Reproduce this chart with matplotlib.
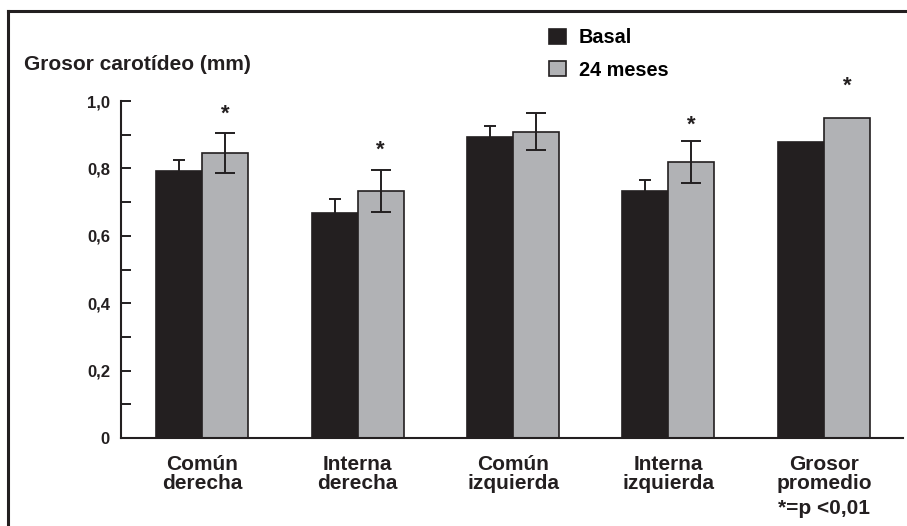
import numpy as np
import matplotlib
matplotlib.use("Agg")
import matplotlib.pyplot as plt
from matplotlib.lines import Line2D

plt.rcParams['font.family'] = ['Liberation Sans', 'DejaVu Sans']
plt.rcParams['font.weight'] = 'bold'

# Carotid intima-media thickness (mm), baseline vs 24 months
categories = ["Común\nderecha", "Interna\nderecha", "Común\nizquierda",
              "Interna\nizquierda", "Grosor\npromedio"]
basal = [0.792, 0.669, 0.892, 0.733, 0.877]
meses24 = [0.845, 0.732, 0.909, 0.819, 0.949]
basal_err = [0.032, 0.039, 0.035, 0.034, None]
meses24_err = [0.060, 0.062, 0.055, 0.063, None]
# significant differences (p < 0.01) and where the marker sits
significant = [True, True, False, True, True]
star_y = [0.945, 0.838, None, 0.912, 1.028]
y_ticks = [0, 0.2, 0.4, 0.6, 0.8, 1.0]
y_tick_labels = ["0", "0,2", "0,4", "0,6", "0,8", "1,0"]
y_minor = [0.1, 0.3, 0.5, 0.7, 0.9]
series_labels = ["Basal", "24 meses"]
footnote = "*=p <0,01"

BLACK = "#231f20"
GRAY = "#b1b2b5"
W, H = 907, 526

fig = plt.figure(figsize=(W / 100, H / 100), dpi=100)
ax = fig.add_axes([121 / W, (H - 438) / H, (903 - 121) / W, 337 / H])

x = np.arange(len(categories))
bw = 0.296
b1 = ax.bar(x - bw / 2, basal, bw, color=BLACK, edgecolor=BLACK, linewidth=1.2,
            label=series_labels[0], zorder=2)
b2 = ax.bar(x + bw / 2, meses24, bw, color=GRAY, edgecolor=BLACK, linewidth=1.2,
            label=series_labels[1], zorder=2)

# error bars (only where reported)
idx_b = [i for i, e in enumerate(basal_err) if e is not None]
ax.errorbar(x[idx_b] - bw / 2, [basal[i] for i in idx_b],
            yerr=[basal_err[i] for i in idx_b], fmt='none', ecolor=BLACK,
            elinewidth=1.4, capsize=4.3, capthick=1.4, zorder=3)
idx_m = [i for i, e in enumerate(meses24_err) if e is not None]
ax.errorbar(x[idx_m] + bw / 2, [meses24[i] for i in idx_m],
            yerr=[meses24_err[i] for i in idx_m], fmt='none', ecolor=BLACK,
            elinewidth=1.4, capsize=7.5, capthick=1.4, zorder=3)

for i, sig in enumerate(significant):
    if sig:
        ax.text(x[i] + bw / 2, star_y[i], "*", ha='center', va='baseline',
                fontsize=16, color=BLACK, clip_on=False)

ax.set_xlim(-0.523, 4.509)
ax.set_ylim(0, 1.0)
ax.set_yticks(y_ticks)
ax.set_yticklabels(y_tick_labels)
ax.set_yticks(y_minor, minor=True)
ax.tick_params(axis='y', which='both', direction='in', length=7.2, width=1.4,
               color=BLACK, labelsize=12, pad=8, labelcolor=BLACK)
ax.set_xticks(x)
ax.set_xticklabels(categories, fontsize=15, color=BLACK)
ax.tick_params(axis='x', length=0, pad=12.5)
for lab in ax.get_xticklabels():
    lab.set_linespacing(0.96)

for s in ['top', 'right']:
    ax.spines[s].set_visible(False)
for s in ['left', 'bottom']:
    ax.spines[s].set_linewidth(1.5)
    ax.spines[s].set_color(BLACK)

ax.text(x[-1], -0.181, footnote, transform=ax.get_xaxis_transform(),
        ha='center', va='top', fontsize=15, color=BLACK)

fig.text(24 / W, 1 - 64 / H, "Grosor carotídeo (mm)", ha='left', va='center',
         fontsize=15, color=BLACK)

ax.legend(handles=[b1, b2], loc='upper left',
          bbox_to_anchor=(549 / W, 1 - 28 / H), bbox_transform=fig.transFigure,
          frameon=False, fontsize=14.3, handlelength=0.85, handleheight=0.8,
          handletextpad=0.65, labelspacing=0.68, borderpad=0, borderaxespad=0)

# outer frame (left and top edges)
fig.add_artist(Line2D([7.5 / W, 7.5 / W], [0, 1 - 10.5 / H], transform=fig.transFigure,
                      color=BLACK, linewidth=2.2))
fig.add_artist(Line2D([7.5 / W, 1], [1 - 10.5 / H, 1 - 10.5 / H], transform=fig.transFigure,
                      color=BLACK, linewidth=2.2))

fig.savefig("out.png", dpi=100)
